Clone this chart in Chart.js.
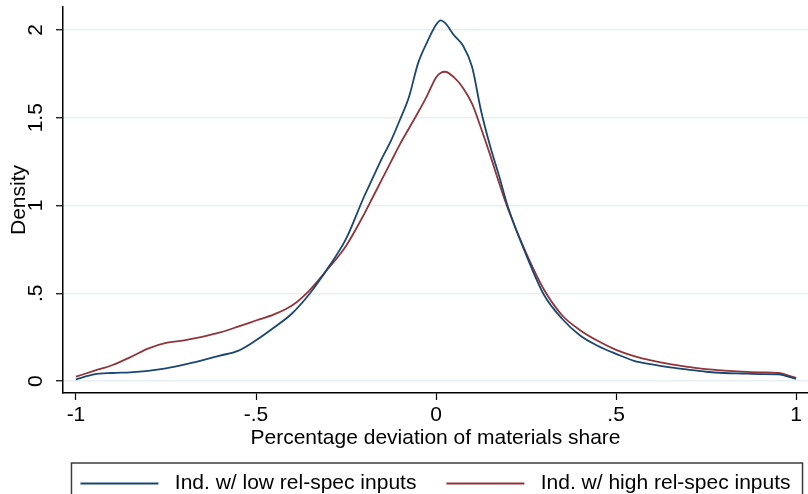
<!DOCTYPE html>
<html>
<head>
<meta charset="utf-8">
<title>Density of materials share deviation</title>
<script src="https://cdn.jsdelivr.net/npm/chart.js@4/dist/chart.umd.min.js"></script>
<style>
  html, body { margin: 0; padding: 0; background: #fff; overflow: hidden; }
  #wrap { position: absolute; left: 0; top: 0; width: 808px; height: 504px; }
</style>
</head>
<body>
<div id="wrap"><canvas id="chart" width="808" height="504"></canvas></div>
<script>
/* ── Data ─────────────────────────────────────────────── */
var xValues = [-1, -0.95, -0.9, -0.85, -0.8, -0.75, -0.7, -0.65, -0.6, -0.55,
  -0.5, -0.45, -0.4, -0.35, -0.3, -0.25, -0.2, -0.175, -0.15, -0.125,
  -0.1, -0.075, -0.05, -0.025, 0, 0.0125, 0.025, 0.05, 0.075, 0.1,
  0.125, 0.15, 0.175, 0.2, 0.25, 0.3, 0.35, 0.4, 0.45, 0.5,
  0.55, 0.6, 0.65, 0.7, 0.75, 0.8, 0.85, 0.9, 0.95, 1];

var lowSpec = [0.01, 0.038, 0.046, 0.05, 0.058, 0.072, 0.093, 0.118, 0.145, 0.172,
  0.232, 0.305, 0.385, 0.5, 0.645, 0.81, 1.05, 1.16, 1.27, 1.37,
  1.49, 1.62, 1.81, 1.93, 2.03, 2.055, 2.04, 1.97, 1.91, 1.79,
  1.54, 1.34, 1.17, 0.99, 0.72, 0.49, 0.355, 0.26, 0.2, 0.155,
  0.115, 0.095, 0.078, 0.065, 0.053, 0.046, 0.043, 0.04, 0.038, 0.012];

var highSpec = [0.025, 0.058, 0.09, 0.135, 0.185, 0.217, 0.232, 0.252, 0.277, 0.31,
  0.345, 0.38, 0.43, 0.52, 0.64, 0.77, 0.95, 1.05, 1.15, 1.25,
  1.35, 1.44, 1.53, 1.625, 1.73, 1.755, 1.762, 1.73, 1.67, 1.58,
  1.44, 1.29, 1.13, 0.98, 0.73, 0.52, 0.375, 0.29, 0.228, 0.178,
  0.142, 0.116, 0.096, 0.081, 0.068, 0.06, 0.054, 0.05, 0.046, 0.018];

var seriesNames = ['Ind. w/ low rel-spec inputs', 'Ind. w/ high rel-spec inputs'];
var xTicks = [-1, -0.5, 0, 0.5, 1];
var xTickLabels = ['-1', '-.5', '0', '.5', '1'];
var yTicks = [0, 0.5, 1, 1.5, 2];
var yTickLabels = ['0', '.5', '1', '1.5', '2'];

/* ── Helpers ──────────────────────────────────────────── */
function points(ys) {
  return xValues.map(function (x, i) { return { x: x, y: ys[i] }; });
}

function fixedTicks(values) {
  return function (scale) {
    scale.ticks = values.map(function (v) { return { value: v }; });
  };
}

function labelFor(values, labels) {
  return function (value) {
    var i = values.indexOf(value);
    return i < 0 ? '' : labels[i];
  };
}

// Centre the legend row under the plot area rather than the canvas,
// then draw the Stata-style frame round it
var legendFrame = {
  id: 'legendFrame',
  afterLayout: function (chart) {
    var lg = chart.legend;
    if (!lg) return;
    var dx = (chart.chartArea.left + chart.chartArea.right) / 2 - chart.width / 2;
    lg.left += dx;
    lg.right += dx;
  },
  afterDraw: function (chart) {
    var lg = chart.legend;
    if (!lg || !lg.legendHitBoxes || !lg.legendHitBoxes.length) return;
    var boxes = lg.legendHitBoxes;
    var first = boxes[0];
    var last = boxes[boxes.length - 1];
    var ctx = chart.ctx;
    var left = first.left - 9;
    var right = last.left + last.width + 12;
    var top = lg.top + 20;
    ctx.save();
    ctx.strokeStyle = '#3c3c3c';
    ctx.lineWidth = 1.5;
    ctx.strokeRect(left, top, right - left, chart.height);
    ctx.restore();
  }
};

/* ── Chart ────────────────────────────────────────────── */
Chart.defaults.font.family = '"Liberation Sans", Arial, sans-serif';
Chart.defaults.font.size = 21;
Chart.defaults.color = '#000';

new Chart(document.getElementById('chart'), {
  type: 'line',
  data: {
    datasets: [{
      label: seriesNames[0],
      data: points(lowSpec),
      borderColor: '#1a476f',
      backgroundColor: '#1a476f',
      borderWidth: 1.8,
      pointRadius: 0,
      cubicInterpolationMode: 'monotone'
    }, {
      label: seriesNames[1],
      data: points(highSpec),
      borderColor: '#90353b',
      backgroundColor: '#90353b',
      borderWidth: 1.8,
      pointRadius: 0,
      cubicInterpolationMode: 'monotone'
    }]
  },
  options: {
    responsive: false,
    animation: false,
    devicePixelRatio: 1,
    layout: { padding: { top: 7, left: 0, right: 0, bottom: 0 } },
    plugins: {
      tooltip: { enabled: false },
      legend: {
        position: 'bottom',
        labels: {
          usePointStyle: true,
          pointStyle: 'line',
          pointStyleWidth: 78,
          padding: 30,
          font: { size: 21 },
          generateLabels: function (chart) {
            var items = Chart.defaults.plugins.legend.labels.generateLabels(chart);
            items.forEach(function (it) { it.text = ' ' + it.text; });
            return items;
          }
        }
      }
    },
    scales: {
      x: {
        type: 'linear',
        min: -1.036,
        max: 1.033,
        afterBuildTicks: fixedTicks(xTicks),
        afterFit: function (scale) { scale.height = 50; },
        ticks: {
          autoSkip: false,
          maxRotation: 0,
          padding: 3,
          callback: labelFor(xTicks, xTickLabels)
        },
        grid: {
          drawOnChartArea: false,
          drawTicks: true,
          tickLength: 7,
          tickColor: '#000',
          tickWidth: 1.2
        },
        border: { display: true, color: '#000', width: 1.5 },
        title: {
          display: true,
          text: 'Percentage deviation of materials share',
          font: { size: 21 },
          padding: { top: 0, bottom: -8 }
        }
      },
      y: {
        min: -0.068,
        max: 2.131,
        afterBuildTicks: fixedTicks(yTicks),
        afterFit: function (scale) {
          scale.width = 63;
          // rotated labels sit well inside the axis, no extra room needed
          scale.paddingTop = 0;
          scale.paddingBottom = 0;
        },
        ticks: {
          autoSkip: false,
          minRotation: 90,
          maxRotation: 90,
          crossAlign: 'center',
          padding: 5,
          callback: labelFor(yTicks, yTickLabels)
        },
        grid: {
          color: '#e8eff2',
          lineWidth: 1.5,
          drawTicks: true,
          tickLength: 7,
          tickColor: '#000',
          tickWidth: 1.2
        },
        border: { display: true, color: '#000', width: 1.5 },
        title: {
          display: true,
          text: 'Density',
          font: { size: 21 },
          padding: { top: 7, bottom: 0 }
        }
      }
    }
  },
  plugins: [legendFrame]
});
</script>
</body>
</html>
